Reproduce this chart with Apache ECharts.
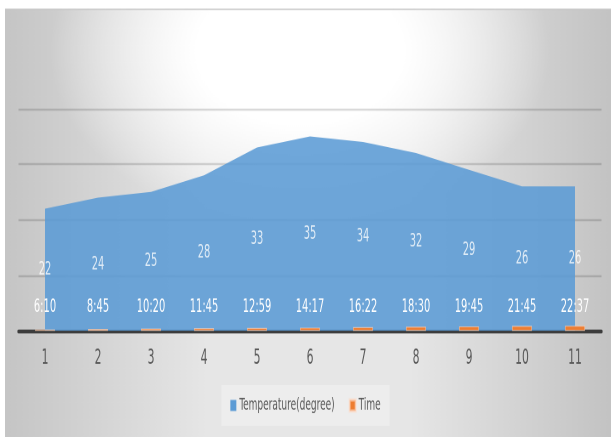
<!DOCTYPE html>
<html>
<head>
<meta charset="utf-8">
<script src="https://cdn.jsdelivr.net/npm/echarts@6/dist/echarts.min.js"></script>
<style>
  html, body { margin: 0; padding: 0; background: #ffffff; }
  /* the chart is laid out short and stretched to full height, giving tall narrow lettering */
  #frame { width: 611px; height: 437px; overflow: hidden; }
  #chart { width: 611px; height: 257.06px; transform: scaleY(1.7); transform-origin: 0 0; }
</style>
</head>
<body>
<div id="frame"><div id="chart"></div></div>
<script>
// Readings taken through the day
const categories = ['1', '2', '3', '4', '5', '6', '7', '8', '9', '10', '11'];
const temperatures = [22, 24, 25, 28, 33, 35, 34, 32, 29, 26, 26];
const times = ['6:10', '8:45', '10:20', '11:45', '12:59', '14:17', '16:22', '18:30', '19:45', '21:45', '22:37'];
const yTicks = [0, 10, 20, 30, 40];

// Clock time as a fraction of a day (the bar height)
const timeFractions = times.map(t => {
  const [h, m] = t.split(':').map(Number);
  return (h * 60 + m) / 1440;
});

const FONT = '"DejaVu Sans Condensed", "Liberation Sans", sans-serif';

const chart = echarts.init(document.getElementById('chart'), null, { renderer: 'canvas', devicePixelRatio: 2 });

chart.setOption({
  animation: false,
  graphic: [
    {
      type: 'rect', z: -20, silent: true,
      shape: { x: 5, y: 5.29, width: 606, height: 251.8 },
      style: {
        fill: new echarts.graphic.LinearGradient(0, 0, 1, 0, [
          { offset: 0, color: '#c5c5c5' },
          { offset: 0.33, color: '#e6e6e6' },
          { offset: 0.67, color: '#e6e6e6' },
          { offset: 1, color: '#c3c3c3' }
        ])
      }
    },
    {
      // soft white glow across the upper middle
      type: 'circle', z: -19, silent: true,
      x: 300, y: 30, scaleY: 0.42,
      shape: { cx: 0, cy: 0, r: 250 },
      style: {
        fill: new echarts.graphic.RadialGradient(0.5, 0.5, 0.5, [
          { offset: 0, color: 'rgba(255,255,255,1)' },
          { offset: 0.42, color: 'rgba(255,255,255,1)' },
          { offset: 1, color: 'rgba(255,255,255,0)' }
        ])
      }
    },
    {
      type: 'rect', z: -18, silent: true,
      shape: { x: 0, y: 0, width: 611, height: 5.29 },
      style: { fill: '#ffffff' }
    },
    {
      type: 'line', z: -17, silent: true,
      shape: { x1: 5, y1: 5.5, x2: 611, y2: 5.5 },
      style: { stroke: '#c4c4c4', lineWidth: 0.8 }
    }
  ],
  grid: { left: 18.5, right: 9.5, top: 63.88, bottom: 62.35, containLabel: false },
  legend: {
    bottom: 6.5,
    left: 'center',
    backgroundColor: 'rgba(255,255,255,0.3)',
    padding: [7, 9],
    itemWidth: 6,
    itemHeight: 6.5,
    itemGap: 14,
    icon: 'rect',
    textStyle: { color: '#595959', fontFamily: FONT, fontSize: 10, padding: [0, 0, 0, -2] },
    data: ['Temperature(degree)', 'Time']
  },
  xAxis: {
    type: 'category',
    data: categories,
    boundaryGap: true,
    axisLine: { show: true, lineStyle: { color: '#3c3c3c', width: 2.3 } },
    axisTick: { show: false },
    axisLabel: { color: '#595959', fontFamily: FONT, fontSize: 12, margin: 10 }
  },
  yAxis: {
    type: 'value',
    min: yTicks[0],
    max: yTicks[yTicks.length - 1],
    interval: yTicks[1] - yTicks[0],
    axisLine: { show: false },
    axisTick: { show: false },
    axisLabel: { show: false },
    splitLine: { show: true, lineStyle: { color: 'rgba(0,0,0,0.15)', width: 1.2 } }
  },
  series: [
    {
      name: 'Temperature(degree)',
      type: 'line',
      data: temperatures,
      symbol: 'none',
      lineStyle: { width: 0 },
      itemStyle: { color: '#5b9bd5' },
      areaStyle: { color: 'rgba(91,155,213,0.88)', opacity: 1 },
      z: 2
    },
    {
      // value labels for the temperature area, set at half height
      name: 'tempLabels',
      type: 'scatter',
      data: temperatures.map((v, i) => [i, v / 2]),
      symbolSize: 0,
      itemStyle: { color: 'transparent' },
      label: {
        show: true,
        position: 'inside',
        color: '#ffffff',
        fontFamily: FONT,
        fontSize: 11,
        formatter: p => String(temperatures[p.dataIndex])
      },
      silent: true,
      z: 4
    },
    {
      name: 'Time',
      type: 'bar',
      data: timeFractions,
      barWidth: 20,
      itemStyle: { color: '#ed7d31', borderColor: 'rgba(255,220,200,0.6)', borderWidth: 0.6 },
      label: {
        show: true,
        position: 'insideBottom',
        distance: 8.5,
        color: '#ffffff',
        fontFamily: FONT,
        fontSize: 11,
        formatter: p => times[p.dataIndex]
      },
      z: 3
    }
  ]
});
</script>
</body>
</html>
